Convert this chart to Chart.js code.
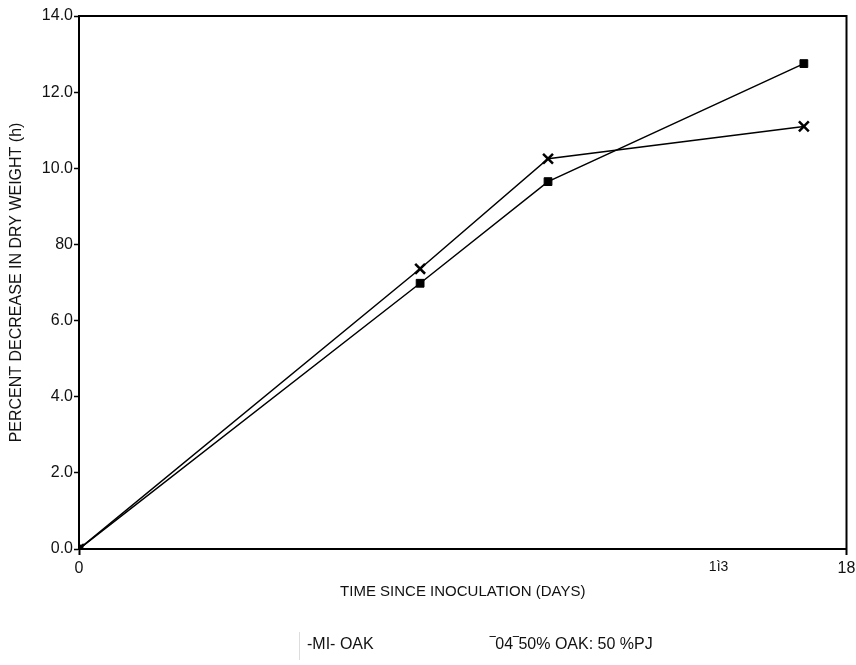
<!DOCTYPE html>
<html>
<head>
<meta charset="utf-8">
<script src="https://cdn.jsdelivr.net/npm/chart.js@4.4.0/dist/chart.umd.min.js"></script>
<style>
  html, body { margin: 0; padding: 0; background: #fff; }
  #wrap { width: 856px; height: 665px; }
</style>
</head>
<body>
<div id="wrap"><canvas id="decayChart" width="856" height="665"></canvas></div>
<script>
// data
const days = [0, 8, 11, 17];
const oakValues = [0, 6.98, 9.65, 12.75];
const mixValues = [0, 7.36, 10.25, 11.1];
const seriesLabels = ['-MI- OAK', '\u203E04\u203E50% OAK: 50 %PJ'];

const xTickValues = [0, 15, 18];
const xTickLabels = ['0', '1\u00EC3', '18'];
const yTickValues = [0, 2, 4, 6, 8, 10, 12, 14];
const yTickLabels = ['0.0', '2.0', '4.0', '6.0', '80', '10.0', '12.0', '14.0'];

const ink = '#000';
const fontFamily = '"Liberation Sans", Arial, sans-serif';

// box round the plot + the text legend under the axis title
const framePlugin = {
    id: 'frame',
    afterDraw(chart) {
        const { ctx, chartArea } = chart;
        ctx.save();
        ctx.strokeStyle = ink;
        ctx.lineWidth = 2;
        ctx.strokeRect(chartArea.left, chartArea.top, chartArea.right - chartArea.left, chartArea.bottom - chartArea.top);

        ctx.fillStyle = '#111';
        ctx.font = '16px ' + fontFamily;
        ctx.textBaseline = 'middle';
        ctx.textAlign = 'left';
        const labels = chart.data.datasets.map(d => d.label);
        ctx.fillText(labels[0], 307, 645);
        ctx.fillText(labels[1], 490, 645);

        ctx.strokeStyle = '#ddd';
        ctx.lineWidth = 1;
        ctx.beginPath();
        ctx.moveTo(299.5, 632);
        ctx.lineTo(299.5, 660);
        ctx.stroke();
        ctx.restore();
    }
};

const points = arr => days.map((d, i) => ({ x: d, y: arr[i] }));

new Chart(document.getElementById('decayChart').getContext('2d'), {
    type: 'line',
    data: {
        datasets: [{
            label: seriesLabels[0],
            data: points(oakValues),
            borderColor: ink,
            backgroundColor: ink,
            borderWidth: 1.5,
            pointStyle: 'rect',
            pointRadius: 5.5,
            pointBorderWidth: 1,
            tension: 0
        }, {
            label: seriesLabels[1],
            data: points(mixValues),
            borderColor: ink,
            backgroundColor: ink,
            borderWidth: 1.5,
            pointStyle: 'crossRot',
            pointRadius: 7,
            pointBorderWidth: 2.5,
            tension: 0
        }]
    },
    options: {
        responsive: false,
        animation: false,
        layout: { padding: { top: 16, right: 9, bottom: 64, left: 0 } },
        plugins: {
            legend: { display: false },
            tooltip: { enabled: false }
        },
        scales: {
            x: {
                type: 'linear',
                min: 0,
                max: 18,
                afterBuildTicks: scale => { scale.ticks = xTickValues.map(v => ({ value: v })); },
                afterFit: scale => {
                    scale.height = 52;
                    scale.paddingRight = 0;
                    scale.paddingLeft = 0;
                },
                border: { color: ink, width: 2 },
                grid: {
                    drawOnChartArea: false,
                    tickLength: 6,
                    tickWidth: 2,
                    tickColor: c => (c.tick && c.tick.value === 15) ? 'rgba(0,0,0,0)' : ink
                },
                ticks: {
                    autoSkip: false,
                    maxRotation: 0,
                    padding: 4,
                    color: '#111',
                    font: c => ({ family: fontFamily, size: (c.tick && c.tick.value === 15) ? 14 : 16 }),
                    callback: v => xTickLabels[xTickValues.indexOf(v)]
                },
                title: {
                    display: true,
                    text: 'TIME SINCE INOCULATION (DAYS)',
                    color: '#111',
                    font: { family: fontFamily, size: 15 },
                    padding: { top: 0, bottom: 0 }
                }
            },
            y: {
                min: 0,
                max: 14,
                afterBuildTicks: scale => { scale.ticks = yTickValues.map(v => ({ value: v })); },
                afterFit: scale => { scale.width = 79; },
                border: { color: ink, width: 2 },
                grid: {
                    drawOnChartArea: false,
                    tickLength: 5,
                    tickWidth: 1.5,
                    tickColor: ink
                },
                ticks: {
                    padding: 1,
                    color: '#111',
                    font: { family: fontFamily, size: 16 },
                    callback: v => yTickLabels[yTickValues.indexOf(v)]
                },
                title: {
                    display: true,
                    text: 'PERCENT DECREASE IN DRY WEIGHT (h)',
                    color: '#111',
                    font: { family: fontFamily, size: 16 },
                    padding: { top: 7, bottom: 0 }
                }
            }
        }
    },
    plugins: [framePlugin]
});
</script>
</body>
</html>
